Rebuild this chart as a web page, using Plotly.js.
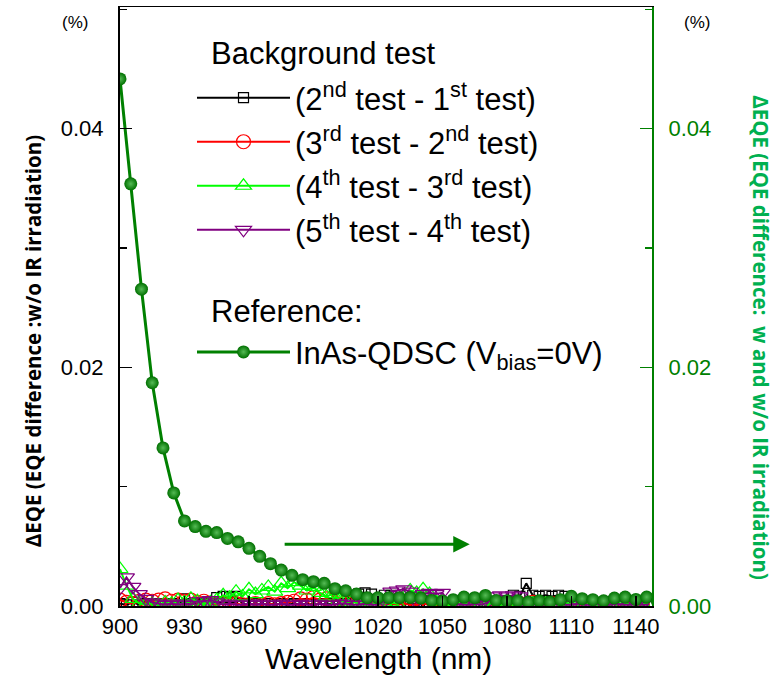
<!DOCTYPE html>
<html>
<head>
<meta charset="utf-8">
<script src="https://cdn.plot.ly/plotly-3.0.1.min.js"></script>
<style>html,body{margin:0;padding:0;background:#fff;}#chart{width:777px;height:679px;}</style>
</head>
<body>
<div id="chart"></div>
<script>
// Reference curve: InAs-QDSC (Vbias=0V), 5 nm steps
var refWavelength = [900,905,910,915,920,925,930,935,940,945,950,955,960,965,970,975,980,985,990,995,
  1000,1005,1010,1015,1020,1025,1030,1035,1040,1045,1050,1055,1060,1065,1070,1075,1080,1085,1090,1095,
  1100,1105,1110,1115,1120,1125,1130,1135,1140,1145,1150];
var refDeltaEQE = [0.04417,0.03538,0.02655,0.01871,0.01325,0.00948,0.00713,0.00666,0.00626,0.00615,
  0.00566,0.00538,0.00483,0.00416,0.00355,0.00301,0.00257,0.00221,0.00204,0.00190,
  0.00145,0.00128,0.00100,0.00070,0.00070,0.00070,0.00070,0.00072,0.00066,0.00047,
  0.00041,0.00053,0.00075,0.00070,0.00089,0.00047,0.00044,0.00044,0.00033,0.00044,
  0.00033,0.00053,0.00081,0.00061,0.00053,0.00044,0.00066,0.00075,0.00055,0.00075,0.00039];

// Background tests, 3 nm steps
var bgWavelength = [900,903,906,909,912,915,918,921,924,927,930,933,936,939,942,945,948,951,954,957,
  960,963,966,969,972,975,978,981,984,987,990,993,996,999,1002,1005,1008,1011,1014,1017,
  1020,1023,1026,1029,1032,1035,1038,1041,1044,1047,1050,1053,1056,1059,1062,1065,1068,1071,1074,1077,
  1080,1083,1086,1089,1092,1095,1098,1101,1104,1107,1110,1113,1116,1119,1122,1125,1128,1131,1134,1137,
  1140,1143,1146];
var test2minus1 = [0.0002,0.0001,0.0003,0.0001,0.0002,0.0001,0.0002,0.0001,0.0002,0.0001,
  0.0006,0.0002,0.0001,0.0002,0.0003,0.0007,0.0008,0.0007,0.0008,0.0002,
  0.0001,0.0002,0.0001,0.0002,0.0001,0.0002,0.0001,0.0002,0.0001,0.0002,
  0.0001,0.0002,0.0001,0.0002,0.0001,0.0002,0.0003,0.0010,0.0011,0.0010,
  0.0003,0.0009,0.0009,0.0002,0.0001,0.0002,0.0001,0.0002,0.0001,0.0002,
  0.0001,0.0002,0.0001,0.0002,0.0001,0.0002,0.0001,0.0002,0.0001,0.0002,
  0.0003,0.0009,0.0008,0.0019,0.0009,0.0008,0.0009,0.0008,0.0009,0.0008,
  0.0002,0.0001,0.0002,0.0001,0.0002,0.0001,0.0002,0.0001,0.0002,0.0001,0.0002,0.0001,0.0002];
var test3minus2 = [0.0005,0.0003,0.0002,0.0004,0.0005,0.0004,0.0005,0.0006,0.0004,0.0005,
  0.0004,0.0005,0.0003,0.0004,0.0002,0.0001,0.0002,0.0001,0.0002,0.0001,
  0.0001,0.0002,0.0001,0.0002,0.0001,0.0002,0.0003,0.0004,0.0006,0.0005,
  0.0007,0.0005,0.0006,0.0004,0.0005,0.0003,0.0004,0.0002,0.0001,0.0002,
  0.0001,0.0001,0.0002,0.0001,0.0002,0.0001,0.0001,0.0002,0.0001,0.0001,
  0.0002,0.0001,0.0001,0.0002,0.0001,0.0001,0.0002,0.0001,0.0001,0.0002,
  0.0001,0.0001,0.0002,0.0001,0.0003,0.0001,0.0001,0.0002,0.0001,0.0001,
  0.0002,0.0001,0.0001,0.0002,0.0001,0.0001,0.0002,0.0001,0.0001,0.0002,0.0001,0.0001,0.0002];
var test4minus3 = [0.0031,0.0017,0.0006,0.0002,0.0001,0.0002,0.0001,0.0003,0.0002,0.0005,
  0.0003,0.0006,0.0004,0.0002,0.0003,0.0005,0.0009,0.0007,0.0012,0.0008,
  0.0014,0.0010,0.0013,0.0016,0.0012,0.0019,0.0015,0.0020,0.0017,0.0013,
  0.0016,0.0011,0.0008,0.0010,0.0005,0.0003,0.0004,0.0002,0.0003,0.0002,
  0.0001,0.0002,0.0003,0.0002,0.0008,0.0013,0.0011,0.0014,0.0010,0.0004,
  0.0002,0.0001,0.0002,0.0001,0.0002,0.0001,0.0002,0.0001,0.0002,0.0001,
  0.0002,0.0001,0.0002,0.0001,0.0002,0.0001,0.0002,0.0001,0.0002,0.0003,
  0.0001,0.0002,0.0001,0.0002,0.0001,0.0002,0.0001,0.0002,0.0001,0.0002,0.0001,0.0002,0.0001];
var test5minus4 = [0.0015,0.0024,0.0016,0.0010,0.0006,0.0003,0.0002,0.0001,0.0002,0.0001,
  0.0002,0.0001,0.0004,0.0004,0.0005,0.0003,0.0001,0.0002,0.0001,0.0001,
  0.0002,0.0001,0.0002,0.0001,0.0001,0.0002,0.0001,0.0001,0.0002,0.0001,
  0.0001,0.0002,0.0001,0.0001,0.0002,0.0002,0.0001,0.0001,0.0002,0.0001,
  0.0001,0.0004,0.0012,0.0013,0.0014,0.0012,0.0003,0.0010,0.0011,0.0010,
  0.0011,0.0003,0.0002,0.0001,0.0001,0.0002,0.0001,0.0003,0.0008,0.0009,
  0.0008,0.0009,0.0008,0.0002,0.0001,0.0002,0.0001,0.0001,0.0002,0.0001,
  0.0001,0.0002,0.0001,0.0001,0.0002,0.0001,0.0001,0.0002,0.0001,0.0001,0.0002,0.0001,0.0001];

var xTicks = [900,930,960,990,1020,1050,1080,1110,1140];
var seriesNames = [
  '(2<sup>nd</sup> test - 1<sup>st</sup> test)',
  '(3<sup>rd</sup> test - 2<sup>nd</sup> test)',
  '(4<sup>th</sup> test - 3<sup>rd</sup> test)',
  '(5<sup>th</sup> test - 4<sup>th</sup> test)',
  'InAs-QDSC (V<sub>bias</sub>=0V)'
];

var FONT = 'Liberation Sans, Arial, sans-serif';
var GREEN = '#008000';

function bgTrace(y, name, color, symbol, size, legendId) {
  return {
    x: bgWavelength, y: y, name: name, type: 'scatter', mode: 'lines+markers',
    line: {color: color, width: 2},
    marker: {symbol: symbol, size: size, color: color, line: {color: color, width: 1.2}},
    legend: legendId, xaxis: 'x', yaxis: 'y'
  };
}

var traces = [
  bgTrace(test2minus1, seriesNames[0], '#000000', 'square-open', 10, 'legend'),
  bgTrace(test3minus2, seriesNames[1], '#ff0000', 'circle-open', 14, 'legend2'),
  bgTrace(test4minus3, seriesNames[2], '#00ff00', 'triangle-up-open', 14, 'legend3'),
  bgTrace(test5minus4, seriesNames[3], '#800080', 'triangle-down-open', 14, 'legend4'),
  {
    x: refWavelength, y: refDeltaEQE, name: seriesNames[4], type: 'scatter', mode: 'lines+markers',
    line: {color: GREEN, width: 3},
    marker: {symbol: 'circle', size: 13, color: '#007000', line: {width: 0},
             gradient: {type: 'radial', color: '#55bb55'}},
    legend: 'legend5', xaxis: 'x', yaxis: 'y2'
  }
];

function pxX(p) { return (p - 120) / 532; }
function pxY(p) { return (605.6 - p) / 598.6; }

function legendAt(rowY) {
  return {x: pxX(192), xanchor: 'left', y: pxY(rowY), yanchor: 'middle',
          bgcolor: 'rgba(0,0,0,0)', borderwidth: 0, itemwidth: 93,
          font: {family: FONT, size: 31, color: '#000'}};
}

var yRange = [0, 0.0502];

var layout = {
  width: 777, height: 679,
  margin: {l: 120, r: 125, t: 7, b: 73, pad: 0},
  paper_bgcolor: '#fff', plot_bgcolor: '#fff',
  font: {family: FONT, color: '#000'},
  showlegend: true,
  legend: legendAt(98),
  legend2: legendAt(142),
  legend3: legendAt(186),
  legend4: legendAt(230),
  legend5: legendAt(352),
  xaxis: {
    range: [900, 1147.5], tickvals: xTicks, ticktext: xTicks.map(String),
    ticks: 'inside', ticklen: 10, tickwidth: 1.5, tickcolor: '#000',
    showline: true, linecolor: '#000', linewidth: 1.5, mirror: true,
    showgrid: false, zeroline: false,
    tickfont: {family: FONT, size: 22, color: '#000'}
  },
  yaxis: {
    range: yRange, tick0: 0, dtick: 0.02, tickformat: '.2f',
    ticks: 'inside', ticklen: 12, tickwidth: 1.5, tickcolor: '#000',
    minor: {dtick: 0.01, ticks: 'inside', ticklen: 7, tickwidth: 1.5, tickcolor: '#000'},
    showline: true, linecolor: '#000', linewidth: 2,
    showgrid: false, zeroline: false, ticklabelstandoff: 10,
    tickfont: {family: FONT, size: 22, color: '#000'}
  },
  yaxis2: {
    range: yRange, tick0: 0, dtick: 0.02, tickformat: '.2f', overlaying: 'y', side: 'right',
    ticks: 'inside', ticklen: 12, tickwidth: 1.5, tickcolor: GREEN,
    minor: {dtick: 0.01, ticks: 'inside', ticklen: 7, tickwidth: 1.5, tickcolor: GREEN},
    showline: true, linecolor: GREEN, linewidth: 2,
    showgrid: false, zeroline: false, ticklabelstandoff: 10,
    tickfont: {family: FONT, size: 22, color: GREEN}
  },
  annotations: [
    {xref: 'paper', yref: 'paper', x: pxX(209), y: pxY(53), xanchor: 'left', yanchor: 'middle',
     text: 'Background test', showarrow: false, font: {family: FONT, size: 31, color: '#000'}},
    {xref: 'paper', yref: 'paper', x: pxX(209), y: pxY(311), xanchor: 'left', yanchor: 'middle',
     text: 'Reference:', showarrow: false, font: {family: FONT, size: 31, color: '#000'}},
    {xref: 'paper', yref: 'paper', x: pxX(75), y: pxY(22), xanchor: 'center', yanchor: 'middle',
     text: '(%)', showarrow: false, font: {family: FONT, size: 17, color: '#000'}},
    {xref: 'paper', yref: 'paper', x: pxX(697), y: pxY(22), xanchor: 'center', yanchor: 'middle',
     text: '(%)', showarrow: false, font: {family: FONT, size: 17, color: '#000'}},
    {xref: 'paper', yref: 'paper', x: pxX(33), y: pxY(341), xanchor: 'center', yanchor: 'middle',
     textangle: -90, text: '<b>ΔEQE (EQE difference :w/o IR irradiation)</b>', showarrow: false,
     font: {family: 'Open Sans, sans-serif', size: 20.5, color: '#000'}},
    {xref: 'paper', yref: 'paper', x: pxX(761), y: pxY(338), xanchor: 'center', yanchor: 'middle',
     textangle: 90, text: '<b>ΔEQE (EQE difference:&nbsp; w and w/o IR irradiation)</b>', showarrow: false,
     font: {family: 'Open Sans, sans-serif', size: 20.5, color: '#00b050'}},
    {xref: 'paper', yref: 'paper', x: pxX(378), y: pxY(658), xanchor: 'center', yanchor: 'middle',
     text: 'Wavelength (nm)', showarrow: false, font: {family: FONT, size: 30, color: '#000'}},
    {xref: 'x', yref: 'y2', x: 1062.7, y: 0.00517, ax: 975.9, ay: 0.00517, axref: 'x', ayref: 'y2',
     showarrow: true, arrowhead: 2, arrowsize: 1.1, arrowwidth: 3, arrowcolor: GREEN, text: ''}
  ]
};

Plotly.newPlot('chart', traces, layout, {displayModeBar: false, staticPlot: true});
</script>
</body>
</html>
